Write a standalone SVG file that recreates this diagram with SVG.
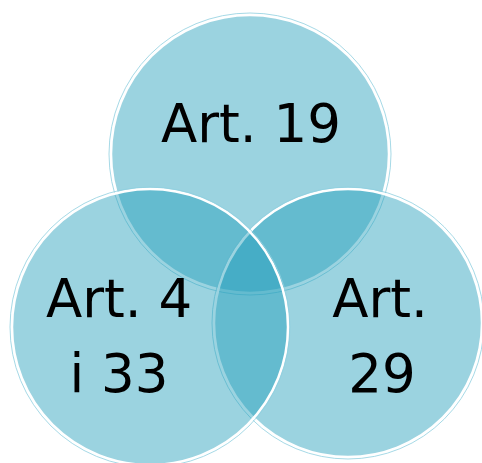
<svg xmlns="http://www.w3.org/2000/svg" width="482" height="463" viewBox="0 0 482 463">
<style>
.c{fill:#219dba;fill-opacity:0.45;stroke:#ffffff;stroke-width:2.5}
.o{fill:none;stroke:#8fcfdf;stroke-width:0.8}
.t{font-family:"DejaVu Sans",sans-serif;font-size:53px;fill:#000000;text-anchor:middle}
</style>
<rect width="482" height="463" fill="#ffffff"/>
<g id="top">
<circle class="c" cx="250" cy="154" r="139"/>
<circle class="o" cx="250" cy="154" r="141"/>
<text class="t" x="251" y="142">Art. 19</text>
</g>
<g id="right">
<circle class="c" cx="348" cy="323" r="134"/>
<circle class="o" cx="348" cy="323" r="136"/>
<text class="t" x="380" y="317">Art.</text>
<text class="t" x="382" y="392">29</text>
</g>
<g id="left">
<circle class="c" cx="150" cy="327" r="138"/>
<circle class="o" cx="150" cy="327" r="140"/>
<text class="t" x="119" y="317">Art. 4</text>
<text class="t" x="119" y="392">i 33</text>
</g>
<g id="connectors"/>
</svg>
